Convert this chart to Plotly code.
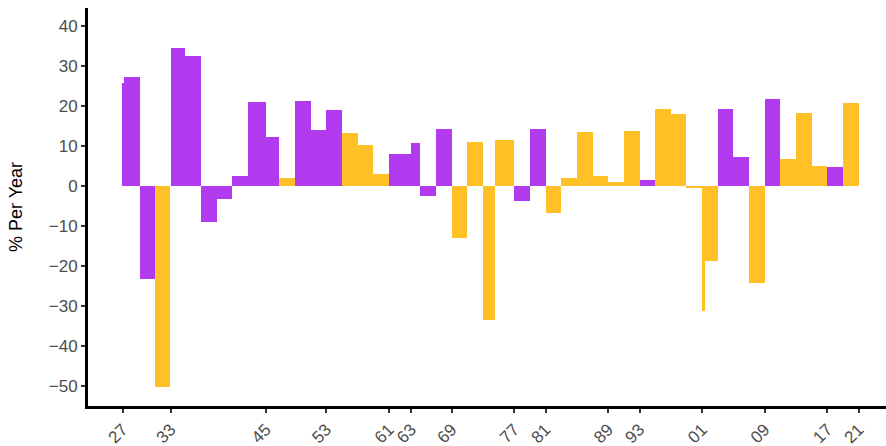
import plotly.graph_objects as go

# Segment boundaries (decimal years), values (% per year) and party colour group
seg_start = [1926.87, 1927.17, 1929.17, 1931.1, 1933.17, 1935.0, 1937, 1939, 1941, 1943,
             1945.28, 1947, 1949, 1951, 1953, 1955, 1957, 1959, 1961, 1963.85,
             1965, 1967, 1969, 1971, 1973, 1974.6, 1977, 1979, 1981, 1983,
             1985, 1987, 1989, 1991, 1993, 1995, 1997, 1999, 2001, 2001.4,
             2003, 2005, 2007, 2009, 2011, 2013, 2015, 2017, 2019]
seg_end = [1927.17, 1929.2, 1931.1, 1933.1, 1935.0, 1937.0, 1939, 1941, 1943, 1945.28,
           1947, 1949, 1951, 1953, 1955, 1957, 1959, 1961, 1963.85, 1965,
           1967, 1969, 1971, 1973, 1974.6, 1977, 1979, 1981, 1983, 1985,
           1987, 1989, 1991, 1993, 1995, 1997, 1999, 2001, 2001.4, 2003,
           2005, 2007, 2009, 2011, 2013, 2015, 2017, 2019, 2021]
seg_value = [25.7, 27.3, -23.2, -50.2, 34.5, 32.5, -8.9, -3.25, 2.5, 21.0,
             12.25, 2.0, 21.25, 14.0, 19.0, 13.25, 10.25, 3.0, 8.0, 10.75,
             -2.5, 14.25, -13.0, 11.0, -33.5, 11.5, -3.75, 14.25, -6.75, 2.0,
             13.5, 2.5, 1.0, 13.75, 1.5, 19.25, 18.0, -0.3, -31.25, -18.75,
             19.25, 7.25, -24.25, 21.75, 6.75, 18.25, 5.0, 4.75, 20.75]
seg_group = ["P", "P", "P", "Y", "P", "P", "P", "P", "P", "P",
             "P", "Y", "P", "P", "P", "Y", "Y", "Y", "P", "P",
             "P", "P", "Y", "Y", "Y", "Y", "P", "P", "Y", "Y",
             "Y", "Y", "Y", "Y", "P", "Y", "Y", "Y", "Y", "Y",
             "P", "P", "Y", "P", "Y", "Y", "Y", "P", "Y"]

tick_years = [1927, 1933.13, 1945.3, 1953, 1961, 1963.85, 1969, 1977, 1981, 1989,
              1993, 2001, 2009, 2017, 2021]
tick_labels = ["27", "33", "45", "53", "61", "63", "69", "77", "81", "89",
               "93", "01", "09", "17", "21"]
y_ticks = [-50, -40, -30, -20, -10, 0, 10, 20, 30, 40]

colors = {"P": "#B23AEE", "Y": "#FFC125"}

mid = [(a + b) / 2 for a, b in zip(seg_start, seg_end)]
wid = [b - a for a, b in zip(seg_start, seg_end)]

fig = go.Figure()
fig.add_trace(go.Bar(
    x=mid, y=seg_value, width=wid,
    marker=dict(color=[colors[g] for g in seg_group], line=dict(width=0)),
    showlegend=False,
))

fig.update_layout(
    width=886, height=446,
    margin=dict(l=88, r=0, t=8, b=40),
    paper_bgcolor="white", plot_bgcolor="white",
    barmode="overlay", bargap=0,
    font=dict(family="Liberation Sans, Arial, sans-serif", color="#4d4d4d"),
    xaxis=dict(
        range=[1922.57, 2024.48],
        tickmode="array", tickvals=tick_years, ticktext=tick_labels,
        tickangle=-45, tickfont=dict(size=17, color="#4d4d4d"),
        ticks="outside", ticklen=4, tickwidth=2, tickcolor="#333333",
        showline=True, linecolor="black", linewidth=3,
        showgrid=False, zeroline=False, automargin=False,
    ),
    yaxis=dict(
        range=[-55.0, 44.5],
        tickmode="array", tickvals=y_ticks,
        tickfont=dict(size=17, color="#4d4d4d"),
        ticks="outside", ticklen=4, tickwidth=2, tickcolor="#333333",
        showline=True, linecolor="black", linewidth=3,
        showgrid=False, zeroline=False, automargin=False,
        title=dict(text="% Per Year", font=dict(size=18, color="black"), standoff=22),
    ),
)

fig.write_html(
    "out.html",
    config={"displayModeBar": False},
    post_script="document.body.style.margin='0';"
                "document.body.style.overflow='hidden';"
                "document.documentElement.style.overflow='hidden';",
)
